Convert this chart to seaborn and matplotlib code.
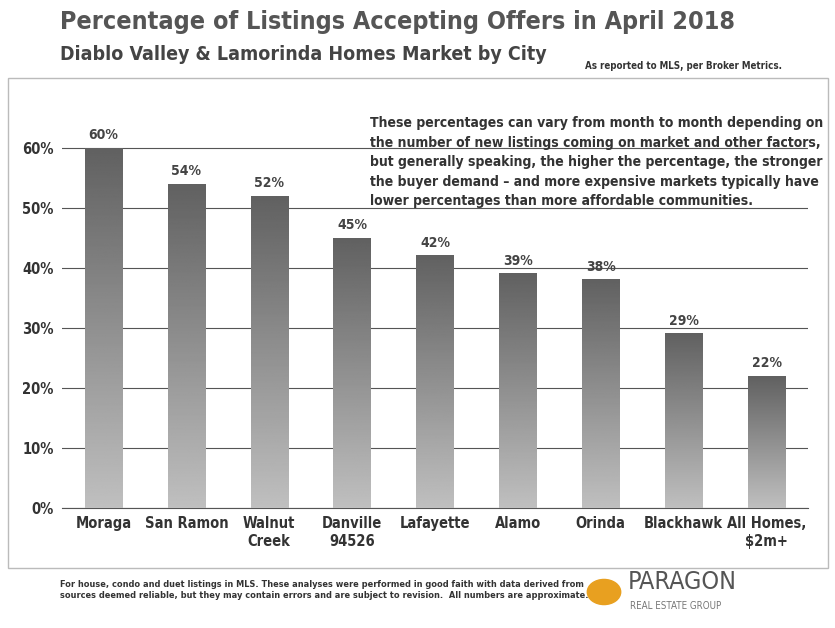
import matplotlib
matplotlib.use("Agg")
import matplotlib.pyplot as plt
import seaborn as sns
import numpy as np
import pandas as pd
from matplotlib.patches import Rectangle

cities = ["Moraga", "San Ramon", "Walnut\nCreek", "Danville\n94526", "Lafayette", "Alamo", "Orinda", "Blackhawk", "All Homes,\n$2m+"]
values = [60, 54, 52, 45, 42, 39, 38, 29, 22]
yticks = [0, 10, 20, 30, 40, 50, 60]

plt.rcParams["font.family"] = "DejaVu Sans"
plt.rcParams["font.stretch"] = "condensed"
fig = plt.figure(figsize=(8.35, 6.28), dpi=100)
fig.patch.set_facecolor("white")
fig.add_artist(Rectangle((8/835, 1-568/628), 820/835, 490/628, transform=fig.transFigure,
                         fill=False, edgecolor="#bbbbbb", linewidth=1))
ax = fig.add_axes([62/835, 1-508/628, 746/835, 420/628])
df = pd.DataFrame({"city": cities, "v": values})
sns.barplot(data=df, x="city", y="v", ax=ax, color="#888888", width=0.45, zorder=2)
grad = np.linspace(0.75, 0.38, 256).reshape(-1, 1)
for p in ax.patches:
    x0, w, h = p.get_x(), p.get_width(), p.get_height()
    ax.imshow(grad, cmap="gray", vmin=0, vmax=1, aspect="auto",
              extent=[x0, x0+w, 0, h], origin="lower", zorder=3)
    p.set_facecolor("none")
    ax.text(x0+w/2, h+1, f"{int(h)}%", ha="center", va="bottom", fontsize=10,
            fontweight="bold", color="#444444", zorder=4)
ax.set_ylim(0, 70)
ax.set_xlim(-0.5, len(cities)-0.5)
ax.set_yticks(yticks)
ax.set_yticklabels([f"{t}%" for t in yticks], fontsize=10.5, fontweight="bold", color="#333333")
ax.set_xticks(range(len(cities)))
ax.set_xticklabels(cities, fontsize=10.5, fontweight="bold", color="#333333", va="top")
ax.set_xlabel(""); ax.set_ylabel("")
ax.yaxis.grid(True, color="#555555", linewidth=0.8, zorder=0)
ax.set_axisbelow(True)
ax.patch.set_alpha(0)
for s in ["top", "right", "left"]:
    ax.spines[s].set_visible(False)
ax.spines["bottom"].set_color("#555555")
ax.tick_params(length=0, pad=6)

fig.text(60/835, 1-22/628, "Percentage of Listings Accepting Offers in April 2018",
         fontsize=18, fontweight="bold", color="#555555", va="center")
fig.text(60/835, 1-55/628, "Diablo Valley & Lamorinda Homes Market by City",
         fontsize=14, fontweight="bold", color="#444444", va="center")
fig.text(782/835, 1-66/628, "As reported to MLS, per Broker Metrics.",
         fontsize=7, fontweight="bold", color="#333333", ha="right", va="center")
fig.text(370/835, 1-162/628,
         "These percentages can vary from month to month depending on\n"
         "the number of new listings coming on market and other factors,\n"
         "but generally speaking, the higher the percentage, the stronger\n"
         "the buyer demand – and more expensive markets typically have\n"
         "lower percentages than more affordable communities.",
         fontsize=10, fontweight="bold", color="#333333", va="center", linespacing=1.5)
fig.text(60/835, 1-590/628,
         "For house, condo and duet listings in MLS. These analyses were performed in good faith with data derived from\n"
         "sources deemed reliable, but they may contain errors and are subject to revision.  All numbers are approximate.",
         fontsize=6.6, fontweight="bold", color="#333333", va="center")
fig.add_artist(plt.Circle((604/835, 1-592/628), 0.02, transform=fig.transFigure,
                          color="#e8a020"))
fig.text(628/835, 1-582/628, "PARAGON", fontsize=18, color="#555555", va="center")
fig.text(630/835, 1-606/628, "REAL ESTATE GROUP", fontsize=7, color="#777777", va="center")
fig.savefig("out.png", dpi=100)
